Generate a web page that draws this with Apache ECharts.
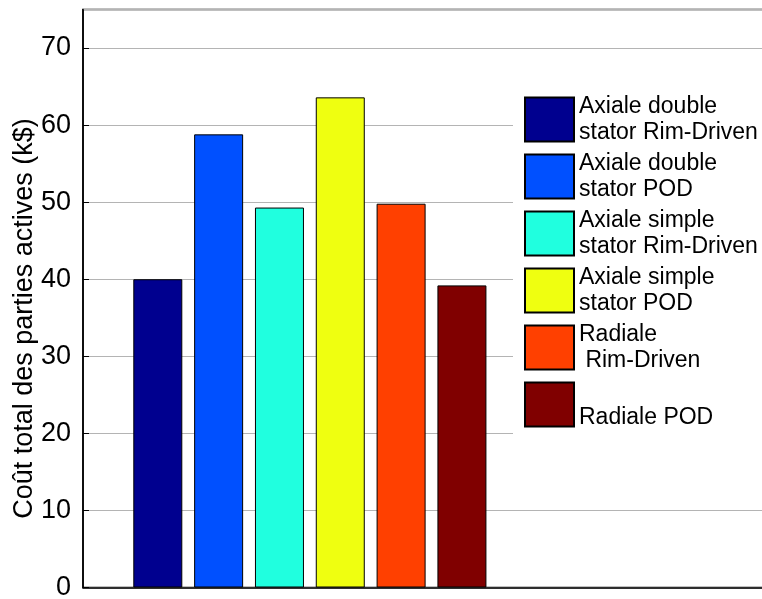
<!DOCTYPE html>
<html>
<head>
<meta charset="utf-8">
<script src="https://cdn.jsdelivr.net/npm/echarts@6/dist/echarts.min.js"></script>
<style>
html,body{margin:0;padding:0;background:#fff;}
#chart{width:762px;height:599px;}
</style>
</head>
<body>
<div id="chart"></div>
<script>
// Data
var seriesNames = [
  "Axiale double\nstator Rim-Driven",
  "Axiale double\nstator POD",
  "Axiale simple\nstator Rim-Driven",
  "Axiale simple\nstator POD",
  "Radiale\n Rim-Driven",
  "\nRadiale POD"
];
var barPositions = [1, 2, 3, 4, 5, 6];
var costValues = [40.0, 58.8, 49.3, 63.6, 49.8, 39.2];
var barColors = ["#00008F", "#0050FF", "#20FFDF", "#EFFF10", "#FF4000", "#800000"];
var yAxisTitle = "Coût total des parties actives (k$)";

var font = "Liberation Sans, Arial, Helvetica, sans-serif";

var series = seriesNames.map(function (name, i) {
  return {
    name: name,
    type: 'bar',
    barWidth: 49,
    barGap: '-100%',
    data: [[barPositions[i], costValues[i]]],
    itemStyle: { color: barColors[i], borderColor: '#000', borderWidth: 1 },
    emphasis: { disabled: true },
    animation: false
  };
});

var chart = echarts.init(document.getElementById('chart'), null, { renderer: 'canvas' });
chart.setOption({
  backgroundColor: '#fff',
  animation: false,
  grid: {
    left: 83, right: -1, top: 9.5, bottom: 11.5,
    containLabel: false,
    outerBoundsMode: 'none',
    show: true, borderColor: '#000', borderWidth: 1.5, backgroundColor: 'rgba(0,0,0,0)'
  },
  legend: {
    orient: 'vertical',
    left: 513, top: 86,
    padding: [7, 10, 8, 11],
    backgroundColor: '#fff',
    icon: 'rect',
    itemWidth: 49, itemHeight: 44,
    itemGap: 4,
    selectedMode: false,
    textStyle: { fontFamily: font, fontSize: 23, color: '#000', lineHeight: 26.5 },
    data: seriesNames
  },
  xAxis: {
    type: 'value',
    min: -0.23, max: 10.95,
    axisLine: { show: true, onZero: false, lineStyle: { color: '#000', width: 1.5 } },
    axisTick: { show: false },
    axisLabel: { show: false },
    splitLine: { show: false }
  },
  yAxis: {
    type: 'value',
    min: 0, max: 75, interval: 10,
    name: yAxisTitle,
    nameLocation: 'middle',
    nameGap: 45,
    nameMoveOverlap: false,
    nameRotate: 90,
    nameTextStyle: { fontFamily: font, fontSize: 27, color: '#000', padding: [0, 40, 0, 0] },
    axisLine: { show: true, onZero: false, lineStyle: { color: '#000', width: 1.5 } },
    axisTick: { show: true, inside: true, length: 6, lineStyle: { color: '#000' } },
    axisLabel: { fontFamily: font, fontSize: 27, color: '#000', margin: 12, showMaxLabel: false },
    splitLine: { show: true, lineStyle: { color: '#b4b4b4', width: 1 } }
  },
  series: series
});
</script>
</body>
</html>
